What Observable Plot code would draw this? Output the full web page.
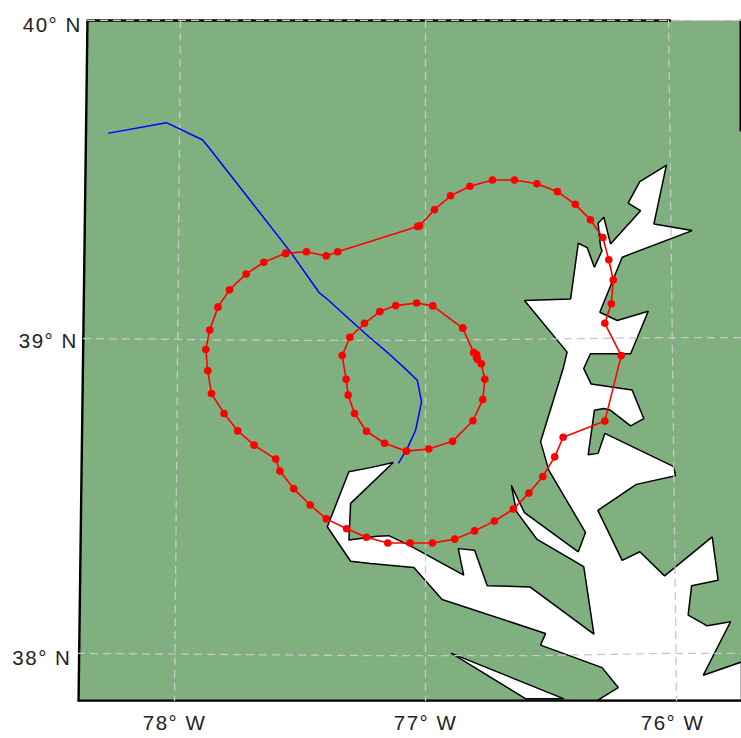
<!DOCTYPE html>
<html><head><meta charset="utf-8">
<script src="https://cdn.jsdelivr.net/npm/d3@7"></script>
<script src="https://cdn.jsdelivr.net/npm/@observablehq/plot@0.6"></script>
<style>html,body{margin:0;padding:0;background:#fff}svg{display:block}</style>
</head><body><div id="chart"></div>
<script>
// all positions: map easting / northing in degrees
const landFrame=[[-78.359,40.005],[-75.722,40.005],[-75.722,37.856],[-78.395,37.856]];
const frameTopEnd=[-76.01,40.005];
const frameRight=[[-75.726,40.005],[-75.726,39.657]];
const bay=[[-76.025,39.547],[-76.132,39.496],[-76.179,39.428],[-76.129,39.404],[-76.250,39.299],[-76.277,39.383],[-76.300,39.364],[-76.290,39.289],[-76.284,39.278],[-76.315,39.225],[-76.344,39.287],[-76.380,39.301],[-76.411,39.125],[-76.597,39.120],[-76.425,38.957],[-76.441,38.905],[-76.532,38.674],[-76.499,38.584],[-76.351,38.387],[-76.380,38.326],[-76.597,38.450],[-76.621,38.488],[-76.650,38.536],[-76.629,38.453],[-76.546,38.365],[-76.358,38.279],[-76.317,38.066],[-76.575,38.215],[-76.747,38.219],[-76.798,38.331],[-76.864,38.336],[-76.842,38.252],[-77.063,38.347],[-77.144,38.377],[-77.191,38.375],[-77.305,38.363],[-77.298,38.479],[-77.126,38.608],[-77.218,38.592],[-77.305,38.579],[-77.392,38.405],[-77.298,38.296],[-77.218,38.289],[-77.043,38.276],[-76.929,38.175],[-76.512,38.068],[-76.532,38.031],[-76.284,37.960],[-76.219,37.897],[-76.304,37.856],[-75.722,37.856],[-75.722,37.978],[-75.876,37.936],[-75.766,38.105],[-75.860,38.092],[-75.937,38.126],[-75.923,38.219],[-75.816,38.236],[-75.840,38.373],[-76.032,38.250],[-76.132,38.326],[-76.203,38.299],[-76.301,38.457],[-76.146,38.539],[-75.988,38.566],[-75.995,38.595],[-76.273,38.700],[-76.300,38.637],[-76.340,38.633],[-76.315,38.773],[-76.277,38.779],[-76.250,38.773],[-76.169,38.724],[-76.116,38.747],[-76.163,38.837],[-76.328,38.856],[-76.358,38.905],[-76.331,38.952],[-76.169,38.952],[-76.098,39.086],[-76.223,39.057],[-76.293,39.083],[-76.203,39.257],[-75.921,39.341],[-76.075,39.362],[-76.025,39.547]];
const river=[[-76.891,38.005],[-76.440,37.862],[-76.593,37.862],[-76.891,38.005]];
const meridians=[[[-77.984,40.005],[-78.008,37.856]],[[-76.996,40.005],[-76.996,37.856]],[[-76.016,40.005],[-75.984,37.856]]];
const parallels=[[[-78.359,40.005],[-75.722,40.005]],[[-78.375,39.0],[-77.597,38.994],[-77,38.994],[-76.008,39.003],[-75.722,39.003]],[[-78.399,38.005],[-77.218,37.998],[-76.544,37.998],[-76.008,38.005],[-75.722,38.005]]];
const outerTrack=[[-77.560,39.269],[-77.648,39.241],[-77.719,39.204],[-77.786,39.154],[-77.833,39.099],[-77.866,39.027],[-77.882,38.965],[-77.874,38.898],[-77.859,38.826],[-77.808,38.763],[-77.753,38.708],[-77.687,38.663],[-77.600,38.619],[-77.583,38.581],[-77.527,38.525],[-77.461,38.474],[-77.396,38.430],[-77.314,38.399],[-77.234,38.372],[-77.148,38.354],[-77.058,38.354],[-76.968,38.354],[-76.878,38.366],[-76.798,38.392],[-76.718,38.423],[-76.642,38.461],[-76.579,38.512],[-76.523,38.564],[-76.475,38.626],[-76.441,38.688],[-76.273,38.739],[-76.207,38.946],[-76.273,39.048],[-76.247,39.110],[-76.239,39.185],[-76.257,39.249],[-76.281,39.319],[-76.331,39.375],[-76.392,39.424],[-76.464,39.464],[-76.547,39.489],[-76.637,39.501],[-76.726,39.501],[-76.817,39.481],[-76.895,39.451],[-76.960,39.407],[-77.020,39.356],[-77.028,39.354],[-77.350,39.274],[-77.396,39.261],[-77.476,39.274],[-77.560,39.269]];
const innerTrack=[[-76.846,39.033],[-76.967,39.103],[-77.032,39.112],[-77.116,39.104],[-77.180,39.085],[-77.242,39.048],[-77.301,39.004],[-77.332,38.946],[-77.316,38.871],[-77.308,38.821],[-77.282,38.763],[-77.234,38.707],[-77.161,38.669],[-77.073,38.644],[-76.983,38.651],[-76.887,38.675],[-76.805,38.740],[-76.765,38.807],[-76.757,38.871],[-76.771,38.920],[-76.786,38.934],[-76.790,38.949],[-76.790,38.940],[-76.802,38.956],[-76.846,39.033]];
const bluePath=[[-78.273,39.649],[-78.041,39.682],[-77.896,39.628],[-77.876,39.610],[-77.540,39.273],[-77.426,39.146],[-77.386,39.120],[-77.312,39.067],[-77.222,39.004],[-77.144,38.952],[-77.077,38.904],[-77.029,38.868],[-77.012,38.800],[-77.036,38.710],[-77.070,38.652],[-77.104,38.607]];
const latLabels=["40° N","39° N","38° N"];
const latLabelPos=[[-78.382,39.99],[-78.398,38.99],[-78.424,37.99]];
const lonLabels=["78° W","77° W","76° W"];
const lonLabelPos=[[-78.008,37.783],[-76.996,37.783],[-76.0,37.783]];
const X=d=>d[0],Y=d=>d[1];
const green="#80b080",grat="#c8c8c8";
const chart=Plot.plot({
  width:741,height:738,margin:0,
  x:{domain:[-78.7097,-75.7219],axis:null},
  y:{domain:[37.736,40.0681],axis:null},
  style:{background:"#fff",fontFamily:"'Liberation Sans',Arial,sans-serif"},
  marks:[
    Plot.line([...landFrame,landFrame[0]],{x:X,y:Y,fill:green,stroke:"none"}),
    Plot.line(bay,{x:X,y:Y,fill:"#fff",stroke:"#000",strokeWidth:1.5,strokeLinejoin:"miter"}),
    Plot.line(river,{x:X,y:Y,fill:"#fff",stroke:"#000",strokeWidth:1.5}),
    Plot.line([landFrame[3],landFrame[0],frameTopEnd],{x:X,y:Y,stroke:"#000",strokeWidth:2.4}),
    Plot.line(frameRight,{x:X,y:Y,stroke:"#000",strokeWidth:2}),
    Plot.line([landFrame[3],landFrame[2]],{x:X,y:Y,stroke:"#000",strokeWidth:2.2}),
    ...meridians.map(m=>Plot.line(m,{x:X,y:Y,stroke:grat,strokeWidth:1.3,strokeDasharray:"7 6"})),
    ...parallels.map(p=>Plot.line(p,{x:X,y:Y,stroke:grat,strokeWidth:1.3,strokeDasharray:"7 6"})),
    Plot.line(bluePath,{x:X,y:Y,stroke:"#0000ff",strokeWidth:1.5}),
    Plot.line(outerTrack,{x:X,y:Y,stroke:"#ff0000",strokeWidth:1.6}),
    Plot.line(innerTrack,{x:X,y:Y,stroke:"#ff0000",strokeWidth:1.6}),
    Plot.dot(outerTrack,{x:X,y:Y,r:3.8,fill:"#ff0000"}),
    Plot.dot(innerTrack,{x:X,y:Y,r:3.8,fill:"#ff0000"}),
    Plot.text(latLabels,{x:(d,i)=>latLabelPos[i][0],y:(d,i)=>latLabelPos[i][1],text:d=>d,textAnchor:"end",fontSize:20.5,fill:"#222"}),
    Plot.text(lonLabels,{x:(d,i)=>lonLabelPos[i][0],y:(d,i)=>lonLabelPos[i][1],text:d=>d,textAnchor:"middle",fontSize:20.5,fill:"#222"})
  ]
});
chart.querySelectorAll("text").forEach(t=>t.style.letterSpacing="1.5px");
document.getElementById("chart").append(chart);
</script></body></html>
